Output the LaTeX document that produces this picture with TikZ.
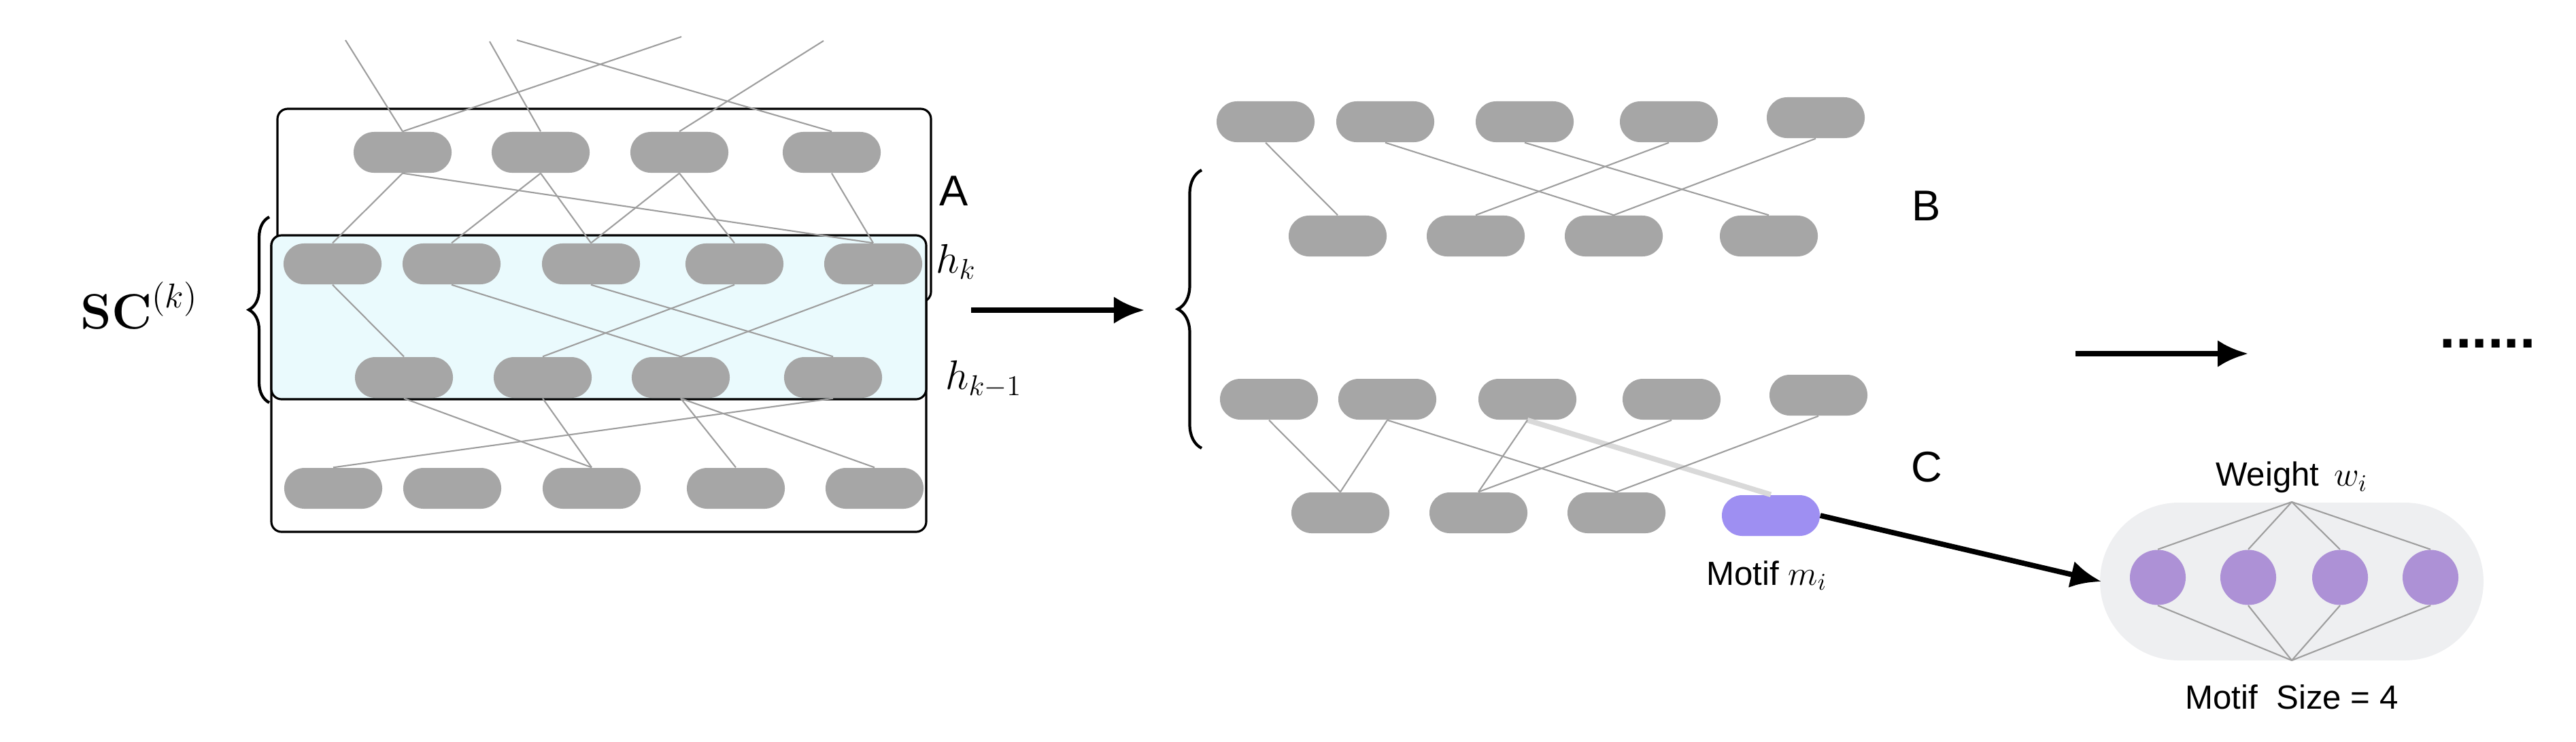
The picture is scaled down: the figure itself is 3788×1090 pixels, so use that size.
\documentclass[tikz,border=0pt]{standalone}
\usepackage[no-math]{fontspec}
\setmainfont{Liberation Sans}
\usepackage{amsmath}
\usepackage{tikz}
\usetikzlibrary{arrows.meta,decorations.pathreplacing,shapes.geometric}
\definecolor{unit}{HTML}{A6A6A6}
\definecolor{motif}{HTML}{9E8FF2}
\definecolor{circ}{HTML}{AD91D6}
\definecolor{band}{HTML}{EAFAFD}
\definecolor{pill}{HTML}{EEEFF1}
\tikzstyle{unit}=[fill=unit,minimum width=1.44cm,minimum height=0.6cm,rounded corners=0.3cm,inner sep=0pt]
\tikzstyle{edge}=[draw=black!38,line width=0.6pt]
\tikzstyle{box}=[draw=black,line width=0.9pt,rounded corners=0.15cm]
\tikzstyle{bigarrow}=[line width=2.2pt,-{Latex[length=0.45cm,width=0.4cm]}]
\tikzstyle{lab}=[font=\fontsize{18}{20}\selectfont]
\tikzstyle{small}=[font=\fontsize{14}{16}\selectfont]

\begin{document}
\begin{tikzpicture}[x=0.01cm,y=-0.01cm]
 \useasboundingbox (0,0) rectangle (3788,1090);

 % boxes
 \draw[box,fill=white] (399,346) rectangle (1362,782);
 \draw[box,fill=white] (408,160) rectangle (1369,444);
 \draw[box,fill=band] (399,346) rectangle (1362,587);

 % left stack
 \foreach \x [count=\i] in {592,795,999,1223} \node[unit] (a\i) at (\x,224) {};
 \foreach \x [count=\i] in {489,664,869,1080,1284} \node[unit] (b\i) at (\x,388) {};
 \foreach \x [count=\i] in {594,798,1001,1225} \node[unit] (c\i) at (\x,555) {};
 \foreach \x [count=\i] in {490,665,870,1082,1286} \node[unit] (d\i) at (\x,718) {};

 \coordinate (t1) at (508,59);
 \coordinate (t2) at (1002,54);
 \coordinate (t3) at (720,61);
 \coordinate (t4) at (760,59);
 \coordinate (t5) at (1211,60);
 \draw[edge] (t1) -- (a1.north) (t2) -- (a1.north) (t3) -- (a2.north) (t4) -- (a4.north) (t5) -- (a3.north);
 \foreach \s/\t in {1/1,1/5,2/2,2/3,3/3,3/4,4/5}
  \draw[edge] (a\s.south) -- (b\t.north);
 \foreach \s/\t in {1/1,2/3,3/4,4/2,5/3}
  \draw[edge] (b\s.south) -- (c\t.north);
 \foreach \s/\t in {1/3,2/3,3/4,3/5,4/1}
  \draw[edge] (c\s.south) -- (d\t.north);

 \draw[line width=1.2pt,decorate,decoration={brace,amplitude=0.3cm}] (396,592) -- (396,319);
 \node[font=\fontsize{22}{24}\selectfont] (sc) at (205,449) {$\mathbf{SC}^{(k)}$};
 \node[lab,anchor=west] (la) at (1369,281) {A};
 \node[font=\fontsize{18}{20}\selectfont,anchor=west] (hk) at (1364,385) {$h_k$};
 \node[font=\fontsize{18}{20}\selectfont,anchor=west] (hk1) at (1378,558) {$h_{k-1}$};

 % B and C
 \foreach \x/\y [count=\i] in {1861/179,2037/179,2242/179,2454/179,2670/173} \node[unit] (e\i) at (\x,\y) {};
 \foreach \x [count=\i] in {1967,2170,2373,2601} \node[unit] (f\i) at (\x,347) {};
 \foreach \s/\t in {1/1,2/3,3/4,4/2,5/3}
  \draw[edge] (e\s.south) -- (f\t.north);
 \foreach \x/\y [count=\i] in {1866/587,2040/587,2246/587,2458/587,2674/581} \node[unit] (g\i) at (\x,\y) {};
 \foreach \x [count=\i] in {1971,2174,2377} \node[unit] (h\i) at (\x,754) {};
 \node[unit,fill=motif] (m) at (2604,758) {};
 \draw[black!15,line width=2.2pt] (g3.south) -- (m.north);
 \foreach \s/\t in {1/1,2/1,2/3,3/2,4/2,5/3}
  \draw[edge] (g\s.south) -- (h\t.north);
 \node[small] (ml) at (2598,846) {Motif $m_i$};
 \node[lab] (lb) at (2833,303) {B};
 \node[lab] (lc) at (2833,687) {C};
 \draw[line width=1.2pt,decorate,decoration={brace,amplitude=0.35cm}] (1767,659) -- (1767,250);

 \coordinate (p1) at (1428,456);
 \coordinate (p2) at (1683,456);
 \draw[bigarrow] (p1) -- (p2);
 \coordinate (q1) at (3052,520);
 \coordinate (q2) at (3306,520);
 \draw[bigarrow] (q1) -- (q2);
 \node[font=\fontsize{24}{24}\selectfont\bfseries] (dots) at (3658,505) {......};

 % motif detail
 \fill[pill,rounded corners=1.16cm] (3088,739) rectangle (3652,971);
 \coordinate (top) at (3370,738);
 \coordinate (bot) at (3370,971);
 \foreach \x [count=\i] in {3173,3306,3441,3574} {
  \node[fill=circ,ellipse,minimum width=0.82cm,minimum height=0.81cm,inner sep=0pt] (k\i) at (\x,849) {};
  \draw[edge] (top) -- (k\i.north) (bot) -- (k\i.south);
 }
 \draw[bigarrow] (m.east) -- (3090,855);
 \node[small] (wl) at (3370,702) {Weight \,$w_i$};
 \node[small] (sl) at (3370,1025) {Motif \ Size = 4};
\end{tikzpicture}
\end{document}
